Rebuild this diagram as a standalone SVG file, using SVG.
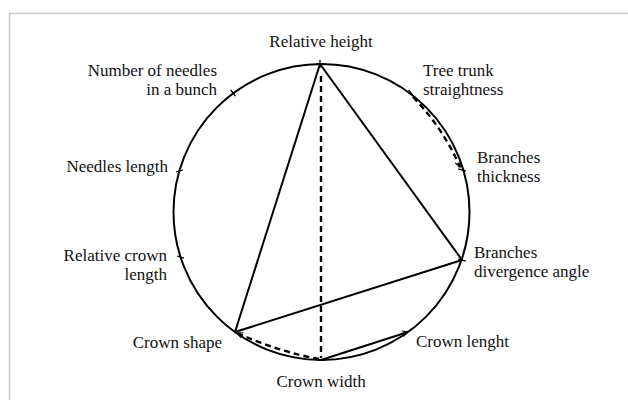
<svg xmlns="http://www.w3.org/2000/svg" width="628" height="400" viewBox="0 0 628 400">
<defs>
<style>
.lbl{font-family:"Liberation Serif","Times New Roman",serif;font-size:17px;fill:#111}
.end{text-anchor:end}
.mid{text-anchor:middle}
.solid{stroke:#000;stroke-width:2;fill:none}
.dash{stroke:#000;stroke-width:2.4;fill:none;stroke-dasharray:6 4}
.tick{stroke:#000;stroke-width:1.3}
</style>
<marker id="arr" viewBox="0 0 10 10" refX="9" refY="5" markerWidth="7" markerHeight="7" orient="auto" markerUnits="userSpaceOnUse">
<path d="M1,1 L9,5 L1,9" fill="none" stroke="#000" stroke-width="1.6"/>
</marker>
</defs>
<rect width="628" height="400" fill="#fff"/>
<path d="M9.5,400 V13.5 H628" fill="none" stroke="#c8c8c8" stroke-width="1.5"/>
<g id="circle">
<circle cx="321.5" cy="212" r="148" fill="none" stroke="#000" stroke-width="2"/>
</g>
<g id="connectors">
<line class="solid" x1="320" y1="64" x2="235" y2="332"/>
<line class="solid" x1="320" y1="64" x2="462" y2="260"/>
<line class="solid" x1="235" y1="332" x2="462" y2="260"/>
<line class="solid" x1="321" y1="360" x2="408" y2="332" stroke-width="1.8" marker-end="url(#arr)"/>
<line class="dash" x1="321" y1="76" x2="321" y2="358"/>
<path class="dash" d="M319,359 Q280,352 237,333" marker-end="url(#arr)"/>
<path class="dash" d="M413,97 Q443,128 460,167" marker-end="url(#arr)"/>
</g>
<g id="node-relative-height">
<line class="tick" x1="320" y1="60" x2="320" y2="68"/><line class="tick" x1="316" y1="64" x2="324" y2="64"/>
<text class="lbl mid" x="321" y="47">Relative height</text>
</g>
<g id="node-tree-trunk">
<line class="tick" x1="408.6" y1="89.8" x2="413.4" y2="96.2"/>
<text class="lbl" x="423" y="76">Tree trunk</text>
<text class="lbl" x="423" y="95">straightness</text>
</g>
<g id="node-branches-thickness">
<line class="tick" x1="458.2" y1="168.9" x2="465.8" y2="171.1"/>
<text class="lbl" x="477" y="163">Branches</text>
<text class="lbl" x="477" y="182">thickness</text>
</g>
<g id="node-branches-divergence">
<line class="tick" x1="458.2" y1="258.8" x2="465.8" y2="261.2"/>
<text class="lbl" x="474" y="258">Branches</text>
<text class="lbl" x="474" y="277">divergence angle</text>
</g>
<g id="node-crown-lenght">
<text class="lbl" x="416" y="347">Crown lenght</text>
</g>
<g id="node-crown-width">
<line class="tick" x1="317" y1="360" x2="325" y2="360"/>
<text class="lbl mid" x="321" y="387">Crown width</text>
</g>
<g id="node-crown-shape">
<text class="lbl end" x="222" y="348">Crown shape</text>
</g>
<g id="node-relative-crown-length">
<line class="tick" x1="177" y1="256" x2="184" y2="258.2"/>
<text class="lbl end" x="167" y="261">Relative crown</text>
<text class="lbl end" x="167" y="280">length</text>
</g>
<g id="node-needles-length">
<line class="tick" x1="176" y1="172" x2="183" y2="170"/>
<text class="lbl end" x="168" y="172">Needles length</text>
</g>
<g id="node-number-of-needles">
<line class="tick" x1="230.6" y1="89.8" x2="235.4" y2="96.2"/>
<text class="lbl end" x="217" y="76">Number of needles</text>
<text class="lbl end" x="217" y="95">in a bunch</text>
</g>
</svg>
